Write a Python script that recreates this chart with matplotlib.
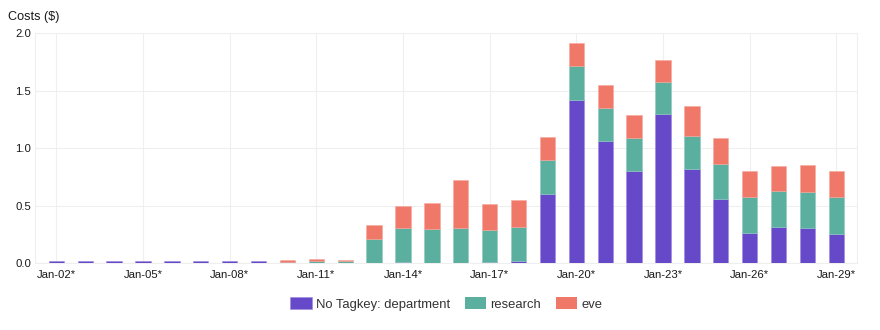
import numpy as np
import matplotlib
matplotlib.use("Agg")
from matplotlib import pyplot as plt

plt.rcParams['font.family'] = ['Liberation Sans', 'DejaVu Sans']

days = ["Jan-%02d*" % d for d in range(2, 30)]

# costs per day
department = [0.015, 0.015, 0.015, 0.015, 0.015, 0.015, 0.015, 0.015,
              0.005, 0.003, 0.003, 0.003, 0.005, 0.004, 0.004, 0.010,
              0.015, 0.597, 1.421, 1.061, 0.797, 1.296, 0.818, 0.560,
              0.261, 0.313, 0.308, 0.250]
research = [0.0, 0.0, 0.0, 0.0, 0.0, 0.0, 0.0, 0.0,
            0.003, 0.012, 0.012, 0.208, 0.300, 0.295, 0.300, 0.280,
            0.301, 0.302, 0.289, 0.287, 0.287, 0.281, 0.290, 0.301,
            0.313, 0.313, 0.309, 0.324]
eve = [0.0, 0.0, 0.0, 0.0, 0.0, 0.0, 0.0, 0.0,
       0.015, 0.017, 0.014, 0.116, 0.191, 0.226, 0.414, 0.220,
       0.235, 0.194, 0.203, 0.197, 0.206, 0.192, 0.261, 0.229,
       0.223, 0.215, 0.238, 0.223]

series = [("No Tagkey: department", department, "#6549c9", "#9c88e0"),
          ("research", research, "#5aaf9f", "#8fcabf"),
          ("eve", eve, "#f07868", "#f6a89d")]

fig = plt.figure(figsize=(8.8, 3.3), dpi=100)
ax = fig.add_axes([0.040, 0.203, 0.934, 0.697])

x = np.arange(len(days))
bottom = np.zeros(len(days))
for name, vals, col, edge in series:
    vals = np.array(vals)
    lw = np.where(vals > 0, 0.4, 0.0)  # no edge on empty segments
    ax.bar(x, vals, width=0.53, bottom=bottom, color=col, label=name,
           edgecolor=edge, linewidth=lw, zorder=3)
    bottom += vals

ax.set_xlim(-0.73, 27.72)
ax.set_ylim(0, 2.0)
ax.set_yticks([0, 0.5, 1.0, 1.5, 2.0])
ax.set_yticklabels(["0.0", "0.5", "1.0", "1.5", "2.0"])
ax.set_xticks(x[::3])
ax.set_xticklabels(days[::3])
ax.tick_params(length=0, labelsize=8.2, colors="#1a1a1a")
ax.tick_params(axis="y", pad=3)
ax.tick_params(axis="x", pad=5)
ax.grid(True, color="#efefef", linewidth=0.8, zorder=0)
for s in ax.spines.values():
    s.set_color("#efefef")
    s.set_linewidth(0.8)

fig.text(0.009, 0.948, "Costs ($)", fontsize=9.1, color="#1a1a1a", va="center")

fig.legend(loc="center", bbox_to_anchor=(0.507, 0.079), ncol=3, frameon=False,
           fontsize=9.4, handlelength=1.64, handleheight=1.0,
           handletextpad=0.3, columnspacing=1.15, labelcolor="#333333")

fig.savefig("out.png", dpi=100)
